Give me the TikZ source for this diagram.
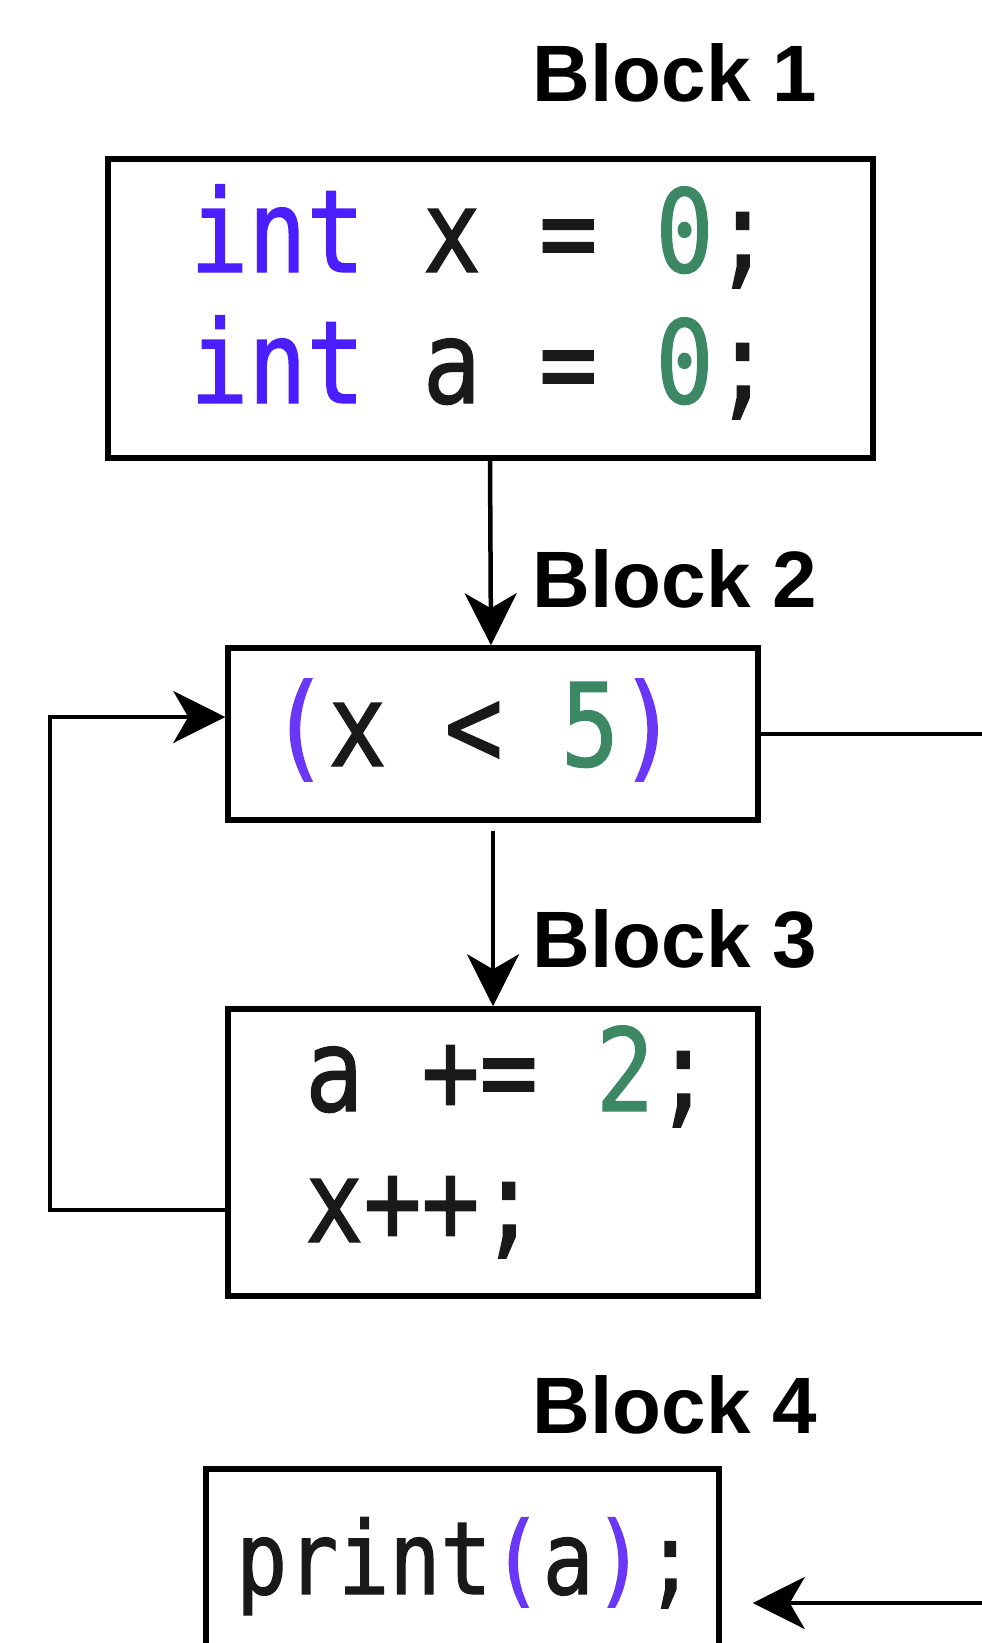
\documentclass[tikz,border=0pt]{standalone}
\usepackage{fontspec}
\setsansfont{Liberation Sans}
\newfontfamily\codefont[FakeStretch=0.84,FakeBold=1.2]{DejaVu Sans Mono}
\usetikzlibrary{arrows.meta}

\definecolor{kwcolor}{RGB}{75,30,255}
\definecolor{numcolor}{RGB}{60,135,100}
\definecolor{parcolor}{RGB}{105,55,245}
\definecolor{idcolor}{RGB}{25,25,25}

\tikzset{
  blockbox/.style={draw=black, line width=5.5pt, rectangle, inner sep=0pt},
  blocklabel/.style={font=\sffamily\bfseries\fontsize{80}{90}\selectfont, anchor=base, inner sep=0pt},
  codeline/.style={font=\codefont\fontsize{115}{120}\selectfont, text=idcolor, anchor=base west, inner sep=0pt},
  smallcode/.style={codeline, font=\codefont\fontsize{101}{110}\selectfont},
  flow/.style={line width=4.5pt, -{Stealth[length=52pt, width=52pt, inset=15pt]}},
  plainflow/.style={line width=4.5pt}
}

\begin{document}
\begin{tikzpicture}[x=1pt, y=-1pt]
  \useasboundingbox (0,0) rectangle (982,1643);
  \clip (0,0) rectangle (982,1643);

  % basic blocks
  \node[blockbox, minimum width=765pt, minimum height=299pt] (b1) at (490.5,308.5) {};
  \node[blockbox, minimum width=530pt, minimum height=172pt] (b2) at (493,734) {};
  \node[blockbox, minimum width=530pt, minimum height=287pt] (b3) at (493,1152.5) {};
  \node[blockbox, minimum width=513pt, minimum height=200pt] (b4) at (462.5,1569) {};

  % block titles
  \node[blocklabel] (t1) at (675,102) {Block 1};
  \node[blocklabel] (t2) at (675,607) {Block 2};
  \node[blocklabel] (t3) at (675,967) {Block 3};
  \node[blocklabel] (t4) at (675,1433) {Block 4};

  % code of each block
  \node[codeline] (c1a) at (190,272) {\textcolor{kwcolor}{int} x = \textcolor{numcolor}{0};};
  \node[codeline] (c1b) at (190,403) {\textcolor{kwcolor}{int} a = \textcolor{numcolor}{0};};
  \node[codeline] (c2)  at (270,766) {\textcolor{parcolor}{(}x < \textcolor{numcolor}{5}\textcolor{parcolor}{)}};
  \node[codeline] (c3a) at (305,1111) {a += \textcolor{numcolor}{2};};
  \node[codeline] (c3b) at (305,1242) {x++;};
  \node[smallcode] (c4) at (236,1594) {print\textcolor{parcolor}{(}a\textcolor{parcolor}{)};};

  % free ends at the right border
  \coordinate (exit2) at (982,734);
  \coordinate (enter4) at (982,1603);
  \coordinate (loopA) at (50,1210);
  \coordinate (loopB) at (50,717);

  % control flow
  \draw[flow] (b1.south -| 490,0) -- (b2.north -| 491,0);
  \draw[flow] ([yshift=-8pt]b2.south) -- (b3.north);
  \draw[flow] (b3.west |- loopA) -- (loopA) -- (loopB) -- (b2.west |- loopB);
  \draw[plainflow] ([xshift=-6pt]b2.east) -- (exit2);
  \draw[flow] (enter4) -- ([xshift=31pt]b4.east |- enter4);
\end{tikzpicture}
\end{document}
